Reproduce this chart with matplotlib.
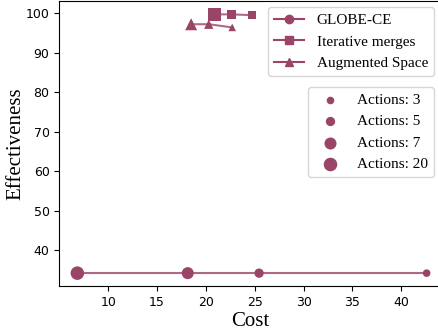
import matplotlib.pyplot as plt
from matplotlib.lines import Line2D

color = '#9a4468'

# GLOBE-CE
globe_cost = [6.85, 18.15, 25.45, 42.6]
globe_eff = [34.2, 34.2, 34.2, 34.2]
globe_actions = [20, 7, 5, 3]

# Iterative merges
merge_cost = [20.9, 22.6, 24.7]
merge_eff = [99.7, 99.7, 99.5]
merge_actions = [20, 5, 3]

# Augmented Space
aug_cost = [18.5, 20.3, 22.7]
aug_eff = [97.2, 97.2, 96.4]
aug_actions = [7, 5, 3]

action_levels = [3, 5, 7, 20]
action_sizes = {3: 30, 5: 45, 7: 75, 20: 95}

fig = plt.figure(figsize=(4.39, 3.32), dpi=100)
ax = fig.add_axes([0.135, 0.138, 0.868, 0.858])

serif = 'Liberation Serif'

for cost, eff, acts, mk in [(globe_cost, globe_eff, globe_actions, 'o'),
                            (merge_cost, merge_eff, merge_actions, 's'),
                            (aug_cost, aug_eff, aug_actions, '^')]:
    ax.plot(cost, eff, color=color, lw=1.5, alpha=0.8, zorder=2)
    ax.scatter(cost, eff, s=[action_sizes[a] for a in acts],
               marker=mk, color=color, zorder=3, linewidths=0)

ax.set_xlim(5.0, 44.0)
ax.set_ylim(30.9, 103.0)
ax.set_xticks([10, 15, 20, 25, 30, 35, 40])
ax.set_yticks([40, 50, 60, 70, 80, 90, 100])
ax.tick_params(labelsize=9)
ax.set_xlabel('Cost', fontsize=15, family=serif, labelpad=2)
ax.set_ylabel('Effectiveness', fontsize=15, family=serif, labelpad=0)

method_handles = [Line2D([], [], color=color, marker=m, markersize=6, lw=1.5, label=l)
                  for m, l in [('o', 'GLOBE-CE'), ('s', 'Iterative merges'), ('^', 'Augmented Space')]]
leg1 = ax.legend(handles=method_handles, loc='upper right', prop={'family': serif, 'size': 11},
                 bbox_to_anchor=(1.0, 1.0), borderaxespad=0.4)
ax.add_artist(leg1)

size_handles = [ax.scatter([], [], s=action_sizes[a], color=color, linewidths=0, label=f'Actions: {a}')
                for a in action_levels]
ax.legend(handles=size_handles, loc='upper right', bbox_to_anchor=(1.0, 0.72),
          prop={'family': serif, 'size': 11}, borderaxespad=0.4)

fig.savefig('out.png', dpi=100)
